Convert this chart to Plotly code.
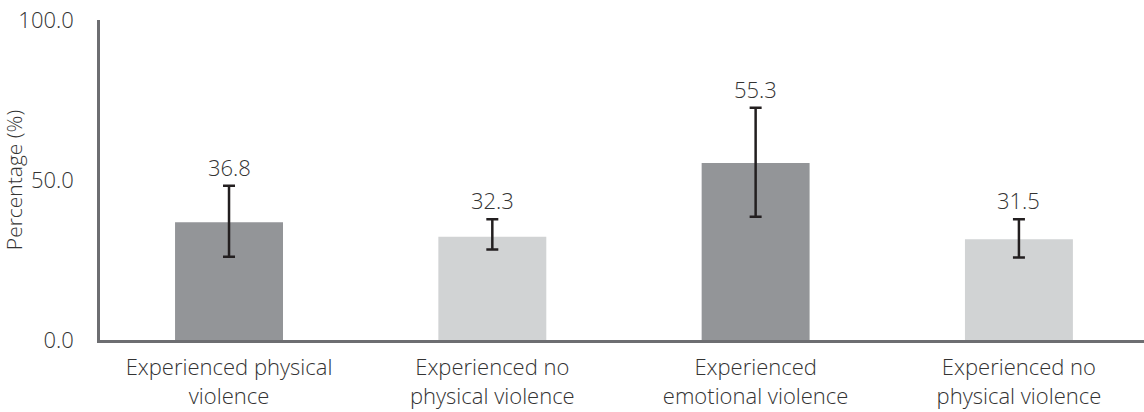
import plotly.graph_objects as go

# Prevalence by violence exposure, with 95% confidence bounds
categories = [
    "Experienced physical<br>violence",
    "Experienced no<br>physical violence",
    "Experienced<br>emotional violence",
    "Experienced no<br>physical violence",
]
values = [36.8, 32.3, 55.3, 31.5]
ci_lower = [26.0, 28.3, 38.5, 25.8]
ci_upper = [48.2, 37.7, 72.6, 37.7]
bar_colors = ["#939598", "#d1d3d4", "#939598", "#d1d3d4"]
y_ticks = [0, 50, 100]
y_tick_labels = ["0.0", "50.0", "100.0"]

positions = list(range(len(categories)))
err_plus = [u - v for u, v in zip(ci_upper, values)]
err_minus = [v - l for v, l in zip(values, ci_lower)]

FONT = "Open Sans"
TEXT = "#333333"
SIZE = 22

fig = go.Figure()
fig.add_trace(go.Bar(
    x=positions,
    y=values,
    marker=dict(color=bar_colors, line=dict(width=0)),
    width=0.41,
    error_y=dict(
        type="data",
        symmetric=False,
        array=err_plus,
        arrayminus=err_minus,
        color="#231f20",
        thickness=2.5,
        width=6,
    ),
    hoverinfo="skip",
))

for x, v, u in zip(positions, values, ci_upper):
    fig.add_annotation(
        x=x, y=u, text=f"{v:.1f}", showarrow=False,
        yanchor="middle", yshift=19,
        font=dict(family=FONT, size=SIZE, color=TEXT, weight=300),
    )

fig.update_layout(
    width=1144, height=412,
    margin=dict(l=100, r=0, t=20, b=72),
    plot_bgcolor="white", paper_bgcolor="white",
    showlegend=False,
    font=dict(family=FONT, size=SIZE, color=TEXT, weight=300),
)
fig.update_xaxes(
    range=[-0.49, 3.475],
    tickvals=positions, ticktext=categories,
    showline=True, linecolor="#6d6e71", linewidth=2.5,
    showgrid=False, zeroline=False, ticks="",
    ticklabelstandoff=6,
    tickfont=dict(family=FONT, size=SIZE, color=TEXT, weight=300),
)
fig.update_yaxes(
    range=[0, 100],
    tickvals=y_ticks, ticktext=y_tick_labels,
    showline=True, linecolor="#6d6e71", linewidth=2.5,
    showgrid=False, zeroline=False, ticks="",
    ticklabelstandoff=19,
    tickfont=dict(family=FONT, size=SIZE, color=TEXT, weight=300),
    title=dict(text="Percentage (%)", standoff=4,
               font=dict(family=FONT, size=21, color=TEXT, weight=300)),
)

fig.write_html("out.html")
